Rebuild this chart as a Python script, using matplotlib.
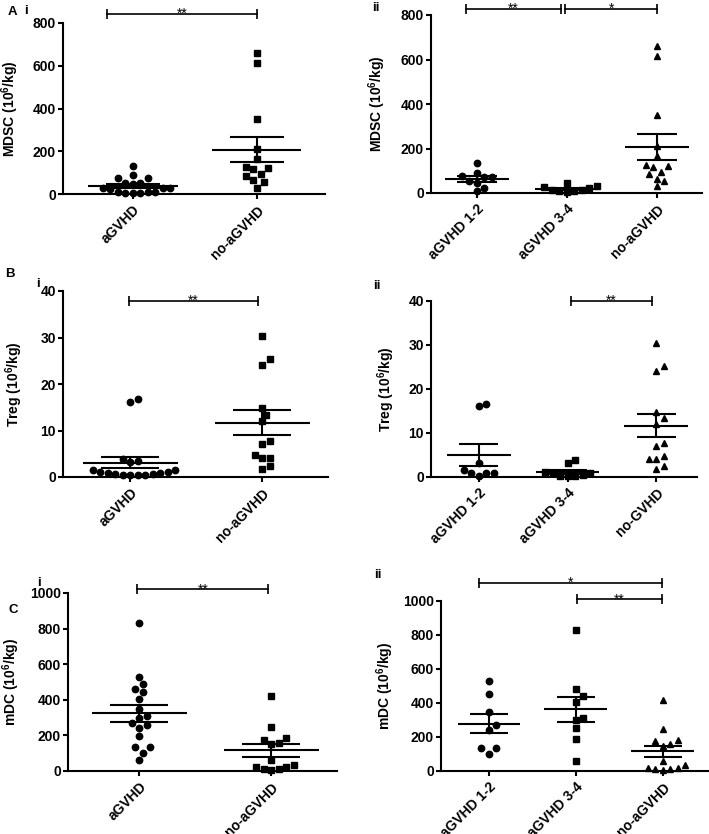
import numpy as np
import matplotlib
matplotlib.use("Agg")
import matplotlib.pyplot as plt

plt.rcParams['font.family'] = ['Liberation Sans', 'DejaVu Sans']
plt.rcParams['font.weight'] = 'bold'
plt.rcParams['mathtext.fontset'] = 'custom'
plt.rcParams['mathtext.rm'] = 'Liberation Sans:bold'
plt.rcParams['mathtext.bf'] = 'Liberation Sans:bold'
plt.rcParams['mathtext.default'] = 'bf'

# ---- data ----
mdsc_agvhd = [133, 89, 73, 73, 50, 47, 50, 26, 22, 26, 26, 8, 6, 3, 6, 8, 11]
mdsc_no = [660, 615, 350, 210, 165, 125, 120, 115, 95, 85, 65, 55, 30]
mdsc_g12 = [133, 89, 75, 73, 70, 52, 47, 22, 8]
mdsc_g34 = [45, 30, 26, 22, 15, 12, 10, 8, 6]

treg_agvhd = [16.7, 16.1, 3.9, 3.4, 3.2, 1.6, 1.4, 1.0, 0.8, 0.6, 0.5, 0.4, 0.4,
              0.5, 0.6, 0.8, 1.0]
treg_no = [30.4, 25.3, 24.1, 14.8, 13.4, 12.0, 7.8, 7.1, 4.7, 4.1, 4.0, 2.4, 1.8]
treg_g12 = [16.7, 16.1, 3.1, 1.6, 1.0, 0.8, 0.8, 0.2]
treg_g34 = [3.9, 3.2, 1.2, 0.9, 0.8, 0.5, 0.3, 0.2, 0.2]

mdc_agvhd = [830, 530, 490, 460, 445, 405, 350, 310, 300, 270, 260, 240, 195,
             135, 135, 100, 60]
mdc_no = [420, 250, 185, 175, 160, 150, 60, 35, 20, 20, 10, 10, 5]
mdc_g12 = [530, 455, 350, 270, 240, 135, 135, 100]
mdc_g34 = [830, 485, 440, 405, 310, 300, 255, 190, 60]

cats_two = ['aGVHD', 'no-aGVHD']
cats_three = ['aGVHD 1-2', 'aGVHD 3-4', 'no-aGVHD']
cats_three_b = ['aGVHD 1-2', 'aGVHD 3-4', 'no-GVHD']

W, H = 709, 834
fig = plt.figure(figsize=(W / 100, H / 100), dpi=100)


def make_ax(x0, x1, ytop, ybot):
    return fig.add_axes([x0 / W, 1 - ybot / H, (x1 - x0) / W, (ybot - ytop) / H])


def swarm_x(ax, xc, vals, d=7.5):
    pts = ax.transData.transform(np.column_stack([np.full(len(vals), xc), vals]))
    ppu = ax.transData.transform((1, 0))[0] - ax.transData.transform((0, 0))[0]
    xs = np.zeros(len(vals))
    placed = []
    for i in np.argsort(vals):
        px, py = pts[i]
        done = False
        for k in range(60):
            offs = [0] if k == 0 else [k * d / 2, -k * d / 2]
            for off in offs:
                if all((px + off - qx) ** 2 + (py - qy) ** 2 >= d * d for qx, qy in placed):
                    placed.append((px + off, py))
                    xs[i] = xc + off / ppu
                    done = True
                    break
            if done:
                break
    return xs


def group(ax, xc, vals, marker, ms):
    vals = np.asarray(vals, float)
    xs = swarm_x(ax, xc, vals)
    ax.plot(xs, vals, marker, color='k', ms=ms, ls='none', clip_on=False, zorder=3)
    m = vals.mean()
    se = vals.std(ddof=1) / np.sqrt(len(vals))
    kw = dict(color='k', lw=1.5, zorder=4, solid_capstyle='butt')
    ax.plot([xc - 0.36, xc + 0.36], [m, m], **kw)
    ax.plot([xc - 0.22, xc + 0.22], [m - se, m - se], **kw)
    ax.plot([xc - 0.22, xc + 0.22], [m + se, m + se], **kw)
    ax.plot([xc, xc], [m - se, m + se], **kw)


def bracket(ax, x0, x1, y, stars):
    ax.plot([x0, x1], [y, y], color='k', lw=1.2, clip_on=False)
    ax.plot([x0, x1], [y, y], ls='none', marker='|', ms=6.5, mew=1.2, color='k',
            clip_on=False)
    ax.annotate(stars, ((x0 + x1) / 2, y), xytext=(0, -3), textcoords='offset points',
                ha='center', va='baseline', fontsize=10, fontweight='normal',
                annotation_clip=False)


def style(ax, xlim, ylim, yticks, cats, ylabel, label_x):
    ax.set_xlim(*xlim)
    ax.set_ylim(*ylim)
    ax.set_yticks(yticks)
    ax.set_xticks(range(len(cats)))
    ax.set_xticklabels(cats, rotation=45, ha='right', rotation_mode='anchor')
    for s in ['top', 'right']:
        ax.spines[s].set_visible(False)
    for s in ['left', 'bottom']:
        ax.spines[s].set_linewidth(1.5)
    ax.tick_params(width=1.5, length=3.5, labelsize=10)
    ax.tick_params(axis='y', pad=1.5)
    ax.tick_params(axis='x', pad=3)
    ax.set_ylabel(ylabel, fontsize=10, fontweight='bold')
    # label right edge placed at pixel label_x
    pos = ax.get_position()
    ax.yaxis.set_label_coords((label_x / W - pos.x0) / pos.width, 0.5)


# A i
ax = make_ax(63, 325, 23, 194)
style(ax, (-0.565, 1.55), (0, 800), range(0, 801, 200), cats_two,
      r'MDSC (10$^{6}$/kg)', 21)
group(ax, 0, mdsc_agvhd, 'o', 4.6)
group(ax, 1, mdsc_no, 's', 4.3)
bracket(ax, -0.21, 1.0, 842, '**')

# A ii
ax = make_ax(431, 702, 15, 193)
style(ax, (-0.51, 2.5), (0, 800), range(0, 801, 200), cats_three,
      r'MDSC (10$^{6}$/kg)', 388)
group(ax, 0, mdsc_g12, 'o', 4.6)
group(ax, 1, mdsc_g34, 's', 4.3)
group(ax, 2, mdsc_no, '^', 4.8)
bracket(ax, -0.12, 0.93, 827, '**')
bracket(ax, 0.98, 2.0, 827, '*')

# B i
ax = make_ax(63, 328, 291, 477)
style(ax, (-0.51, 1.5), (0, 40), range(0, 41, 10), cats_two,
      r'Treg (10$^{6}$/kg)', 25)
group(ax, 0, treg_agvhd, 'o', 4.6)
group(ax, 1, treg_no, 's', 4.3)
bracket(ax, -0.01, 0.97, 37.9, '**')

# B ii
ax = make_ax(431, 697, 301, 477)
style(ax, (-0.54, 2.46), (0, 40), range(0, 41, 10), cats_three_b,
      r'Treg (10$^{6}$/kg)', 397)
group(ax, 0, treg_g12, 'o', 4.6)
group(ax, 1, treg_g34, 's', 4.3)
group(ax, 2, treg_no, '^', 4.8)
bracket(ax, 1.04, 1.95, 40, '**')

# C i
ax = make_ax(68, 337, 593, 771)
style(ax, (-0.54, 1.5), (0, 1000), range(0, 1001, 200), cats_two,
      r'mDC (10$^{6}$/kg)', 22)
group(ax, 0, mdc_agvhd, 'o', 4.6)
group(ax, 1, mdc_no, 's', 4.3)
bracket(ax, -0.015, 0.98, 1020, '**')

# C ii
ax = make_ax(441, 708, 601, 771)
style(ax, (-0.55, 2.52), (0, 1000), range(0, 1001, 200), cats_three,
      r'mDC (10$^{6}$/kg)', 396)
group(ax, 0, mdc_g12, 'o', 4.6)
group(ax, 1, mdc_g34, 's', 4.3)
group(ax, 2, mdc_no, '^', 4.8)
bracket(ax, -0.11, 1.99, 1106, '*')
bracket(ax, 1.01, 1.99, 1010, '**')

# panel letters
for txt, x, y in [('A', 12, 12), ('i', 26, 11), ('ii', 376, 8),
                  ('B', 10, 274), ('i', 38, 284), ('ii', 377, 286),
                  ('C', 13, 610), ('i', 39, 583), ('ii', 378, 575)]:
    fig.text(x / W, 1 - y / H, txt, ha='center', va='center', fontsize=9.5,
             fontweight='bold')

fig.savefig('out.png', dpi=100)
